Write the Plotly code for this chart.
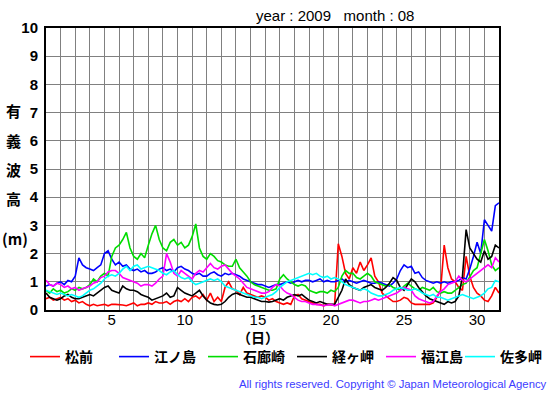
import numpy as np
import plotly.graph_objects as go

# Significant wave height (m), Aug 2009, every 6 hours (t = day offset from Aug 1 00h)
matsumae = [0.4, 0.45, 0.35, 0.4, 0.45, 0.35, 0.4, 0.3, 0.35, 0.25, 0.3, 0.2,
            0.15, 0.2, 0.15, 0.18, 0.2, 0.15, 0.2, 0.2, 0.2, 0.18, 0.15, 0.2,
            0.25, 0.15, 0.2, 0.2, 0.25, 0.2, 0.3, 0.25, 0.25, 0.3, 0.2, 0.3,
            0.35, 0.3, 0.4, 0.3, 0.45, 0.5, 0.4, 0.55, 0.35, 0.6, 0.3, 0.45,
            0.3, 0.8, 1.0, 0.75, 0.7, 0.55, 0.8, 0.6, 0.55, 0.5, 0.45, 0.5,
            0.45, 0.35, 0.4, 0.3, 0.25, 0.2, 0.25, 0.2, 0.5, 0.55, 0.4, 0.35,
            0.3, 0.25, 0.2, 0.2, 0.15, 0.2, 0.2, 0.18, 2.35, 1.9, 1.3, 1.1,
            1.5, 1.3, 1.7, 1.4, 1.6, 1.85, 1.2, 1.0, 0.6, 0.5, 0.4, 0.3,
            0.3, 0.35, 0.45, 0.4, 0.25, 0.2, 0.2, 0.2, 0.18, 0.2, 0.25, 0.45,
            0.7, 2.3, 1.5, 1.1, 1.0, 0.8, 0.7, 1.9, 1.2, 0.8, 0.6, 0.5,
            0.35, 0.3, 0.5, 0.8, 0.6]
enoshima = [0.85, 0.9, 0.85, 0.95, 1.0, 0.9, 1.05, 1.0, 1.2, 1.85, 1.6, 1.5,
            1.45, 1.4, 1.5, 1.6, 2.0, 2.1, 1.8, 1.6, 1.7, 1.55, 1.6, 1.45,
            1.4, 1.45, 1.35, 1.4, 1.3, 1.3, 1.35, 1.45, 1.5, 1.4, 1.45, 1.35,
            1.5, 1.55, 1.45, 1.4, 1.3, 1.25, 1.3, 1.2, 1.2, 1.3, 1.35, 1.25,
            1.2, 1.3, 1.25, 1.3, 1.25, 1.2, 1.1, 1.05, 1.0, 0.95, 0.9, 0.9,
            0.85, 0.8, 0.85, 0.9, 0.9, 0.95, 1.0, 0.95, 1.0, 1.05, 1.0, 1.05,
            1.05, 1.0, 1.05, 1.1, 1.0, 1.05, 1.0, 1.0, 1.05, 1.1, 1.0, 1.05,
            1.0, 0.95, 1.0, 1.05, 1.0, 0.95, 0.95, 1.0, 0.95, 0.9, 0.85, 0.95,
            1.1, 1.4, 1.6, 1.5, 1.55, 1.3, 1.35, 1.15, 1.05, 1.0, 0.95, 1.0,
            0.95, 1.0, 0.95, 1.0, 1.0, 1.05, 1.15, 1.1, 1.45, 1.9, 2.4, 2.0,
            3.2, 3.0, 2.8, 3.7, 3.8]
irozaki = [0.7, 0.6, 0.75, 0.65, 0.7, 0.6, 0.65, 0.75, 0.7, 0.8, 0.75, 0.8,
           0.9, 1.1, 1.0, 1.2, 1.3, 1.2, 1.9, 2.2, 2.3, 2.5, 2.75, 2.2,
           1.9, 1.8, 2.0, 1.85, 2.3, 2.7, 3.0, 2.5, 2.2, 2.1, 2.4, 2.5,
           2.3, 2.4, 2.2, 2.3, 2.6, 3.05, 2.2, 1.9, 1.8, 2.0, 1.9, 1.75,
           1.7, 1.6, 1.55, 1.55, 1.8, 1.5, 1.35, 1.2, 1.0, 0.9, 0.85, 0.8,
           0.75, 0.7, 0.7, 0.75, 1.1, 1.25, 1.1, 1.0, 0.9, 0.85, 0.9, 0.85,
           0.7, 0.65, 0.6, 0.65, 0.65, 0.6, 0.7, 0.65, 0.8, 1.2, 1.4, 1.3,
           1.3, 1.15, 1.1, 1.2, 1.3, 1.2, 1.0, 0.95, 0.9, 0.85, 0.9, 0.8,
           0.75, 0.7, 0.85, 0.95, 0.85, 0.75, 0.7, 0.8, 0.75, 0.7, 0.8, 0.65,
           0.6, 0.65, 0.6, 0.6, 0.7, 0.8, 0.9, 0.95, 1.2, 1.4, 1.5, 2.0,
           2.5, 2.1, 1.6, 1.4, 1.5]
kyogamisaki = [0.6, 0.45, 0.4, 0.35, 0.4, 0.5, 0.55, 0.45, 0.4, 0.4, 0.45, 0.5,
               0.55, 0.5, 0.6, 0.7, 0.8, 0.85, 0.7, 0.65, 0.6, 0.85, 0.75, 0.7,
               0.7, 0.65, 0.55, 0.5, 0.45, 0.35, 0.4, 0.45, 0.5, 0.6, 0.45, 0.5,
               0.8, 0.7, 0.6, 0.55, 0.5, 0.6, 0.7, 0.5, 0.35, 0.25, 0.2, 0.18,
               0.2, 0.3, 0.45, 0.55, 0.6, 0.55, 0.5, 0.45, 0.45, 0.4, 0.35, 0.3,
               0.3, 0.28, 0.3, 0.35, 0.4, 0.35, 0.45, 0.5, 0.55, 0.5, 0.55, 0.45,
               0.35, 0.3, 0.25, 0.3, 0.25, 0.2, 0.2, 0.2, 0.45, 0.7, 1.1, 0.9,
               0.8, 0.75, 0.7, 0.8, 0.85, 0.9, 0.8, 0.75, 0.7, 0.8, 0.95, 1.15,
               1.05, 0.8, 0.7, 0.9, 1.1, 1.0, 0.8, 0.65, 0.5, 0.4, 0.35, 0.3,
               0.25, 0.2, 0.3, 0.25, 0.3, 0.5, 1.2, 2.85, 2.2, 2.0, 1.8, 1.7,
               2.1, 1.8, 1.9, 2.3, 2.2]
fukuejima = [1.05, 0.9, 0.85, 0.95, 0.9, 0.8, 0.85, 0.75, 0.8, 0.7, 0.75, 0.8,
             0.85, 0.95, 1.0, 1.15, 1.2, 1.35, 1.4, 1.4, 1.3, 1.15, 1.1, 1.05,
             1.0, 0.95, 0.85, 0.9, 0.9, 0.85, 0.95, 1.1, 1.2, 2.0, 1.7, 1.3,
             1.2, 1.4, 1.3, 1.2, 1.1, 1.3, 1.4, 1.35, 1.5, 1.65, 1.5, 1.45,
             1.55, 1.6, 1.45, 1.3, 1.2, 1.1, 0.95, 0.8, 0.75, 0.7, 0.65, 0.6,
             0.6, 0.65, 0.8, 0.9, 0.85, 0.7, 0.6, 0.55, 0.45, 0.35, 0.3, 0.3,
             0.25, 0.2, 0.2, 0.18, 0.15, 0.18, 0.2, 0.15, 0.2, 0.25, 0.3, 0.35,
             0.35, 0.3, 0.25, 0.3, 0.3, 0.35, 0.4, 0.35, 0.4, 0.45, 0.5, 0.55,
             0.6, 0.7, 0.8, 0.75, 0.7, 0.5, 0.4, 0.35, 0.3, 0.25, 0.3, 0.5,
             0.65, 0.75, 0.9, 0.95, 1.0, 1.2, 1.05, 1.0, 1.1, 1.2, 1.3, 1.4,
             1.5, 1.6, 1.5, 1.85, 1.7]
satamisaki = [0.7, 0.65, 0.6, 0.55, 0.6, 0.55, 0.5, 0.55, 0.5, 0.45, 0.5, 0.6,
              0.7, 0.75, 0.85, 0.95, 1.1, 1.2, 1.25, 1.2, 1.3, 1.45, 1.55, 1.4,
              1.55, 1.6, 1.45, 1.5, 1.55, 1.5, 1.45, 1.4, 1.3, 1.25, 1.35, 1.4,
              1.25, 1.15, 1.1, 1.15, 1.0, 0.9, 0.95, 1.0, 1.05, 1.1, 1.05, 1.1,
              1.0, 0.85, 0.8, 0.75, 0.7, 0.65, 0.6, 0.55, 0.5, 0.45, 0.45, 0.4,
              0.45, 0.5, 0.55, 0.65, 0.8, 0.9, 1.0, 1.05, 1.1, 1.15, 1.2, 1.25,
              1.3, 1.25, 1.3, 1.2, 1.15, 1.2, 1.1, 1.15, 1.1, 1.0, 0.9, 0.85,
              0.8, 0.75, 0.7, 0.75, 0.7, 0.6, 0.55, 0.5, 0.5, 0.55, 0.6, 0.7,
              0.75, 0.8, 0.75, 0.7, 0.7, 0.75, 0.7, 0.6, 0.55, 0.5, 0.55, 0.45,
              0.45, 0.4, 0.35, 0.4, 0.45, 0.5, 0.55, 0.5, 0.45, 0.4, 0.45, 0.5,
              0.6, 0.75, 0.8, 1.05, 1.0]

station_names = ["松前", "江ノ島", "石廊崎", "経ヶ岬", "福江島", "佐多岬"]
station_colors = ["#ff0000", "#0000ff", "#00dd00", "#000000", "#ff00ff", "#00ffff"]
series = [matsumae, enoshima, irozaki, kyogamisaki, fukuejima, satamisaki]
day_ticks = [5, 10, 15, 20, 25, 30]

t = np.arange(len(matsumae)) * 0.25  # days since Aug 1 00h

fig = go.Figure()
for i, (name, col, vals) in enumerate(zip(station_names, station_colors, series)):
    fig.add_trace(go.Scatter(x=t, y=vals, mode="lines", name=name,
                             legend="legend2" if i == 5 else "legend",
                             line=dict(color=col, width=1.6)))

# plot area in pixels
L, R, T, B = 46, 499, 28, 310
W, H = 555, 395
def px(x): return (x - L) / (R - L)
def py(y): return (B - y) / (B - T)

def ann(text, x, y, font, xanchor="center"):
    return dict(text=text, x=px(x), y=py(y), xref="paper", yref="paper",
                xanchor=xanchor, yanchor="middle", showarrow=False, font=font)

cjk = dict(family="Noto Sans CJK JP", size=15, color="black", weight="bold")
annots = [ann("year : 2009&nbsp;&nbsp;&nbsp;month : 08", 335, 16,
              dict(family="Liberation Sans", size=15, color="black"))]
for ch, yy in [("有", 110), ("義", 140), ("波", 169), ("高", 198)]:
    annots.append(ann(ch, 13, yy, cjk))
annots.append(ann("(m)", 15, 238, cjk))
annots.append(ann("（日）", 258, 337,
                  dict(family="Noto Sans CJK JP", size=14, color="black", weight="bold")))
annots.append(ann("All rights reserved. Copyright © Japan Meteorological Agency", 549, 384,
                  dict(family="Liberation Sans", size=11.3, color="#3c3cff"), xanchor="right"))

legfont = dict(family="Noto Sans CJK JP", size=14, color="black", weight="bold")
fig.update_layout(
    width=W, height=H,
    margin=dict(l=L, r=W - R, t=T, b=H - B, pad=0, autoexpand=False),
    paper_bgcolor="white", plot_bgcolor="white",
    annotations=annots,
    showlegend=True,
    legend=dict(orientation="h", x=px(25), xanchor="left", y=py(357), yanchor="middle",
                entrywidth=44, entrywidthmode="pixels", tracegroupgap=0,
                font=legfont, bgcolor="rgba(0,0,0,0)"),
    legend2=dict(orientation="h", x=px(460), xanchor="left", y=py(357), yanchor="middle",
                 entrywidth=44, entrywidthmode="pixels", tracegroupgap=0,
                 font=legfont, bgcolor="rgba(0,0,0,0)"),
    xaxis=dict(range=[0, 31], tickmode="array",
               tickvals=[d - 0.5 for d in day_ticks], ticktext=[str(d) for d in day_ticks],
               showgrid=False, zeroline=False, ticks="", ticklen=0, ticklabelstandoff=-5,
               showline=True, mirror=True, linecolor="black", linewidth=2,
               tickfont=dict(family="Liberation Sans", size=15, color="black"),
               minor=dict(tick0=0, dtick=1, showgrid=True, gridcolor="#808080", gridwidth=1, ticks="")),
    yaxis=dict(range=[0, 10], tick0=0, dtick=1, showgrid=True, gridcolor="#808080", gridwidth=1,
               zeroline=False, ticks="", ticklen=0, ticklabelstandoff=3,
               showline=True, mirror=True, linecolor="black", linewidth=2,
               tickfont=dict(family="Liberation Sans", size=15, color="black", weight="bold")),
)

fig.write_html("out.html", config={"displayModeBar": False},
               post_script="document.body.style.margin='0';")
